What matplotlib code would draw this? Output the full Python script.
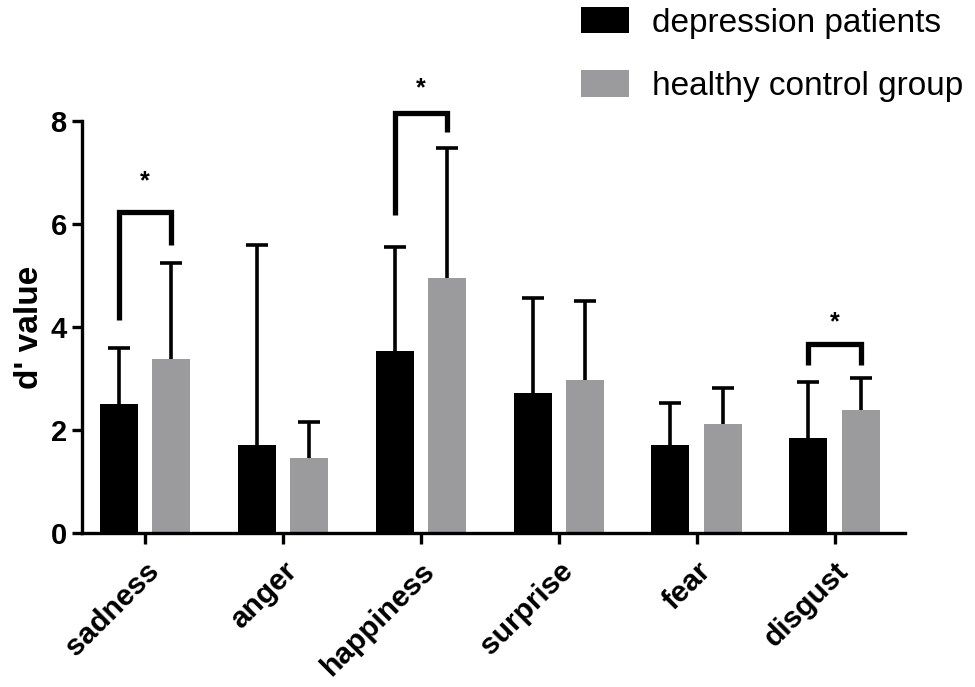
import matplotlib
matplotlib.use("Agg")
import matplotlib.pyplot as plt
import numpy as np

plt.rcParams["font.family"] = ["Liberation Sans", "DejaVu Sans"]

EMOTIONS = ["sadness", "anger", "happiness", "surprise", "fear", "disgust"]

depression_mean = [2.50, 1.70, 3.53, 2.71, 1.71, 1.85]
depression_sd = [1.10, 3.90, 2.03, 1.86, 0.81, 1.08]

control_mean = [3.37, 1.45, 4.96, 2.98, 2.12, 2.39]
control_sd = [1.87, 0.70, 2.51, 1.52, 0.70, 0.61]

# significance brackets: (category index, left leg bottom, top, right leg bottom, star y)
brackets = [
    (0, 4.13, 6.24, 5.59, 6.82),
    (2, 6.17, 8.16, 7.79, 8.64),
    (5, 3.27, 3.66, 3.27, 4.10),
]

BLACK = "#000000"
GRAY = "#9b9b9e"


def draw_errorbars(ax, x, y, sd):
    lower = np.zeros(len(sd))
    _, caps, _ = ax.errorbar(
        x, y, yerr=[lower, sd], fmt="none", ecolor="black",
        elinewidth=2.6, capsize=8, capthick=2.6, zorder=1
    )
    caps[0].set_visible(False)


def main():

    fig = plt.figure(figsize=(9.75, 6.87), dpi=100)
    ax = fig.add_axes([0.0841, 0.2242, 0.844, 0.5997])

    x = np.arange(len(EMOTIONS))
    offset = 0.19
    width = 0.275

    ax.bar(x - offset, depression_mean, width, color=BLACK,
           label="depression patients", zorder=2)
    ax.bar(x + offset, control_mean, width, color=GRAY,
           label="healthy control group", zorder=2)

    draw_errorbars(ax, x - offset, depression_mean, depression_sd)
    draw_errorbars(ax, x + offset, control_mean, control_sd)

    for idx, low_left, top, low_right, star_y in brackets:
        xl = idx - offset
        xr = idx + offset
        ax.plot([xl, xl, xr, xr], [low_left, top, top, low_right],
                color="black", lw=3.8, clip_on=False,
                solid_joinstyle="miter", solid_capstyle="butt", zorder=3)
        ax.text(idx, star_y, "*", ha="center", va="center",
                fontsize=18, fontweight="bold", clip_on=False)

    ax.set_xlim(-0.457, 5.51)
    ax.set_ylim(0, 8)
    ax.set_yticks([0, 2, 4, 6, 8])
    ax.set_xticks(x)
    ax.set_xticklabels(EMOTIONS, rotation=45, ha="right",
                       rotation_mode="anchor", fontsize=21.5, fontweight="bold")

    for label in ax.get_yticklabels():
        label.set_fontsize(21)
        label.set_fontweight("bold")

    ax.set_ylabel("d' value", fontsize=24, fontweight="bold", labelpad=4)

    ax.spines["top"].set_visible(False)
    ax.spines["right"].set_visible(False)
    ax.spines["left"].set_linewidth(2.4)
    ax.spines["bottom"].set_linewidth(2.4)
    ax.tick_params(axis="y", width=2.4, length=7, pad=4)
    ax.tick_params(axis="x", width=2.4, length=8, pad=9)

    ax.legend(loc="upper left", bbox_to_anchor=(0.592, 0.995),
              bbox_transform=fig.transFigure, frameon=False,
              fontsize=24, handlelength=1.45, handleheight=0.85,
              handletextpad=0.7, labelspacing=0.95, borderpad=0.1,
              borderaxespad=0)

    fig.savefig("out.png", dpi=100)


if __name__ == "__main__":
    main()
